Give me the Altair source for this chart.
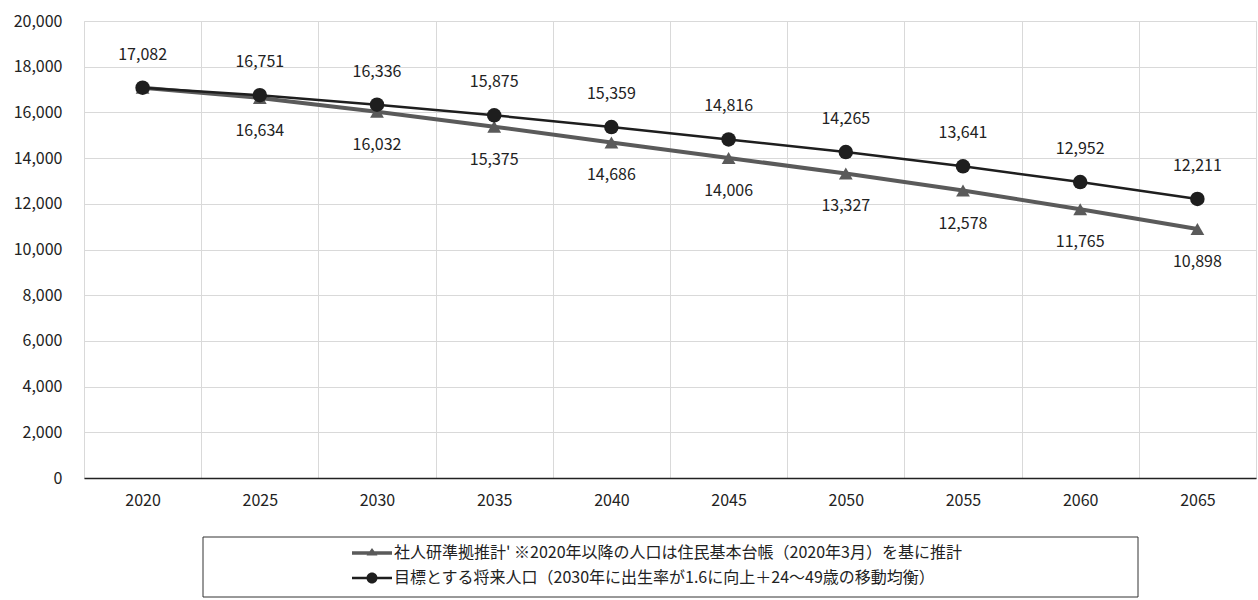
import altair as alt
import pandas as pd

years = ["2020", "2025", "2030", "2035", "2040", "2045", "2050", "2055", "2060", "2065"]
est_values = [17082, 16634, 16032, 15375, 14686, 14006, 13327, 12578, 11765, 10898]
target_values = [17082, 16751, 16336, 15875, 15359, 14816, 14265, 13641, 12952, 12211]
est_label_shown = [False, True, True, True, True, True, True, True, True, True]
target_label_shown = [True] * 10

s_est = "社人研準拠推計' ※2020年以降の人口は住民基本台帳（2020年3月）を基に推計"
s_tgt = "目標とする将来人口（2030年に出生率が1.6に向上＋24～49歳の移動均衡）"
y_ticks = list(range(0, 20001, 2000))

FONT = "Noto Sans CJK JP"
GRAY = "#5a5a5a"
BLACK = "#1e1e1e"
TXT = "#222222"

rows = []
for y, v, s in zip(years, est_values, est_label_shown):
    rows.append({"year": y, "value": v, "series": s_est, "show": s})
for y, v, s in zip(years, target_values, target_label_shown):
    rows.append({"year": y, "value": v, "series": s_tgt, "show": s})
df = pd.DataFrame(rows)

base = alt.Chart(df)
x = alt.X("year:N", sort=years, title=None,
          scale=alt.Scale(paddingInner=0, paddingOuter=0),
          axis=alt.Axis(labelAngle=0, tickBand="extent", grid=True, ticks=False,
                        domainColor="#222222", domainWidth=1.5, labelPadding=14,
                        gridColor="#d9d9d9", labelFont=FONT, labelFontSize=16,
                        labelColor=TXT))
y = alt.Y("value:Q", title=None,
          scale=alt.Scale(domain=[0, 20000], nice=False),
          axis=alt.Axis(values=y_ticks, format=",d", ticks=False, domain=False,
                        gridColor="#d9d9d9", labelPadding=22, labelFont=FONT,
                        labelFontSize=16, labelColor=TXT))

est = base.transform_filter(alt.datum.series == s_est)
tgt = base.transform_filter(alt.datum.series == s_tgt)

est_line = est.mark_line(color=GRAY, strokeWidth=4).encode(x=x, y=y)
est_pts = est.mark_point(shape="triangle-up", filled=True, color=GRAY, size=190, opacity=1).encode(x=x, y=y)
tgt_line = tgt.mark_line(color=BLACK, strokeWidth=2.5).encode(x=x, y=y)
tgt_pts = tgt.mark_point(shape="circle", filled=True, color=BLACK, size=210, opacity=1).encode(x=x, y=y)

est_txt = est.transform_filter(alt.datum.show).mark_text(
    dy=33, font=FONT, fontSize=16, color=TXT).encode(
    x=x, y=y, text=alt.Text("value:Q", format=","))
tgt_txt = tgt.transform_filter(alt.datum.show).mark_text(
    dy=-33, font=FONT, fontSize=16, color=TXT).encode(
    x=x, y=y, text=alt.Text("value:Q", format=","))

path_est = "M-2,-0.165H2V0.165H-2Z M0,-0.5L0.55,0.26H-0.55Z"
path_tgt = "M-2,-0.12H2V0.12H-2Z M0.55,0A0.55,0.55 0 1,1 -0.55,0A0.55,0.55 0 1,1 0.55,0Z"

leg = alt.Legend(title=None, orient="none", legendX=278, legendY=522, padding=0,
                 labelFont=FONT, labelFontSize=16, labelColor=TXT, labelLimit=2000,
                 symbolSize=400, symbolStrokeWidth=0, symbolOpacity=1, labelOffset=12,
                 rowPadding=7, direction="vertical")
legend_layer = base.transform_filter("false").mark_point(filled=True, opacity=1).encode(
    x=x, y=y,
    color=alt.Color("series:N", scale=alt.Scale(domain=[s_est, s_tgt], range=[GRAY, BLACK]), legend=leg),
    shape=alt.Shape("series:N", scale=alt.Scale(domain=[s_est, s_tgt], range=[path_est, path_tgt]), legend=leg),
)

box = alt.Chart(alt.Data(values=[{}])).mark_rect(
    filled=False, stroke="#333333", strokeWidth=1).encode(
    x=alt.value(119), x2=alt.value(1054), y=alt.value(516), y2=alt.value(576))

chart = alt.layer(
    est_line, est_pts, tgt_line, tgt_pts, est_txt, tgt_txt, legend_layer, box
).properties(
    width=1172, height=457,
    autosize=alt.AutoSizeParams(type="none"),
    padding={"left": 84, "top": 21, "right": 2, "bottom": 122},
).configure_view(stroke="#8a8a8a", strokeWidth=1).configure(background="white")

chart.save("out.html", embed_options={"renderer": "svg", "actions": False})
